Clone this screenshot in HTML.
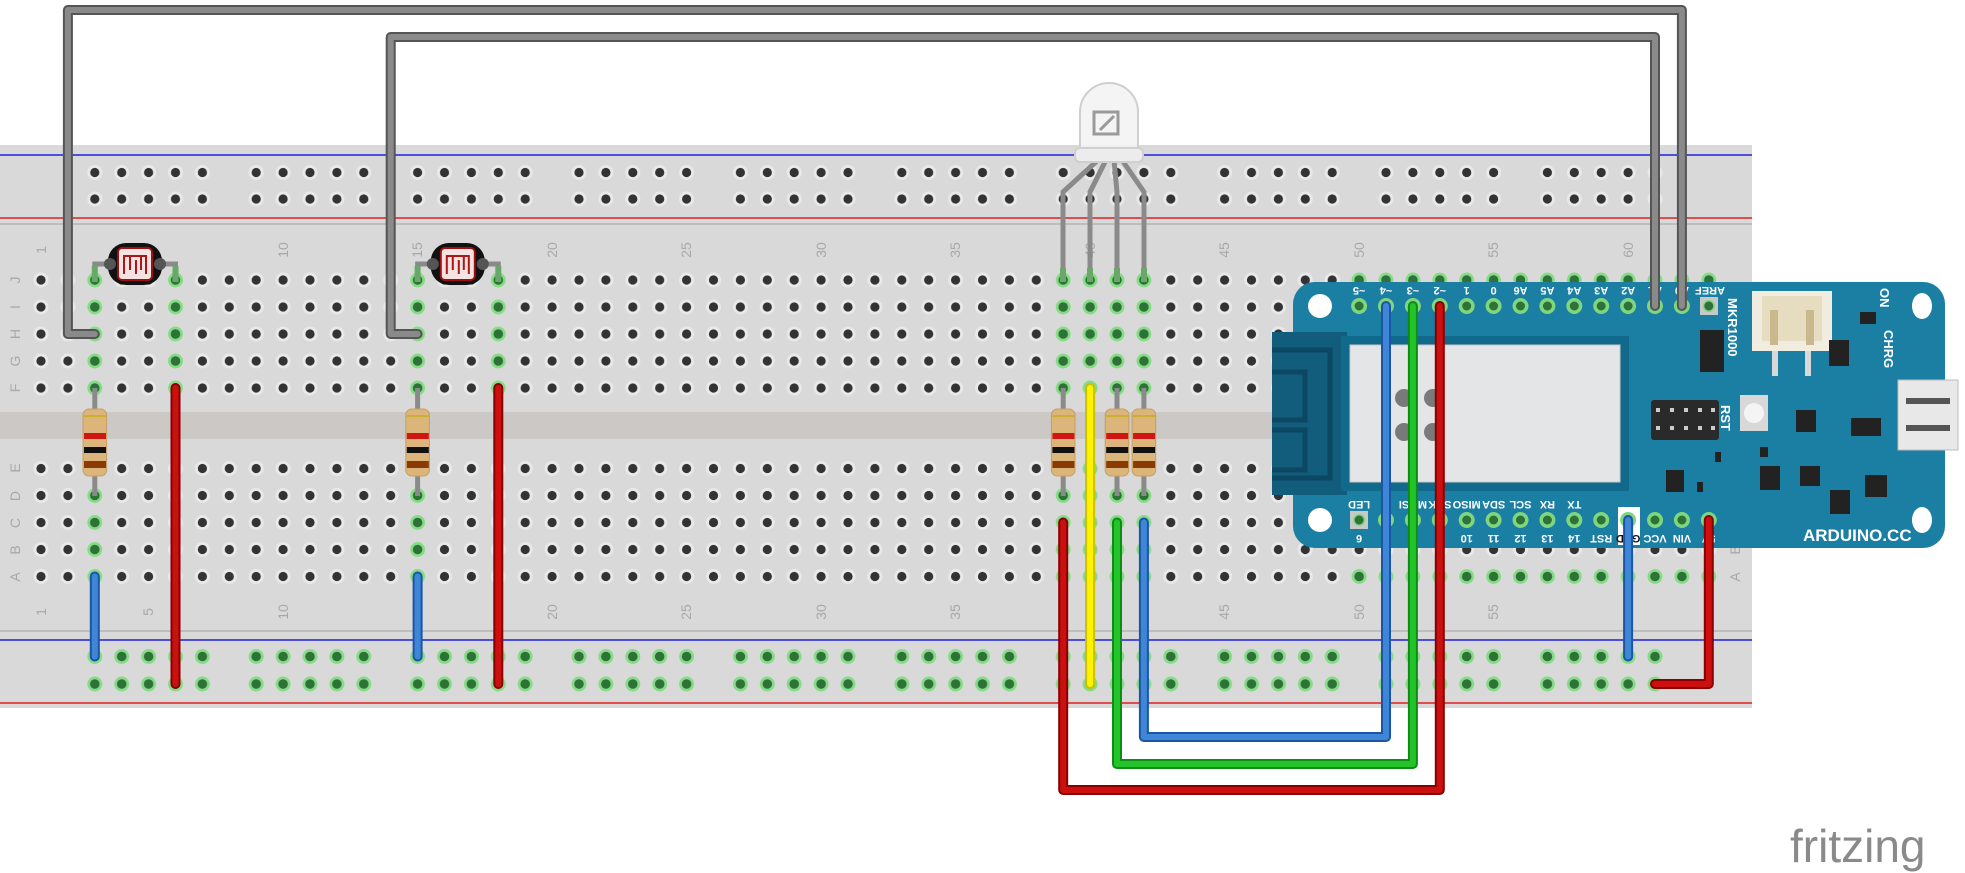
<!DOCTYPE html>
<html><head><meta charset="utf-8"><style>
html,body{margin:0;padding:0;background:#fff;width:1965px;height:873px;overflow:hidden}
svg{display:block;font-family:"Liberation Sans",sans-serif}
</style></head><body>
<svg width="1965" height="873" viewBox="0 0 1965 873" xmlns="http://www.w3.org/2000/svg">
<defs>
<pattern id="h" patternUnits="userSpaceOnUse" x="27.55" y="-13.5" width="26.9" height="27">
<circle cx="13.45" cy="13.5" r="7.5" fill="#e9e9e9"/><circle cx="13.45" cy="13.5" r="4.6" fill="#333"/></pattern>
<pattern id="hg" patternUnits="userSpaceOnUse" x="27.55" y="-13.5" width="26.9" height="27">
<circle cx="13.45" cy="13.5" r="7.5" fill="#86dc86"/><circle cx="13.45" cy="13.5" r="4.8" fill="#2f7238"/></pattern>
<pattern id="r" patternUnits="userSpaceOnUse" x="81.35" y="-13.5" width="161.4" height="27">
<g fill="#e9e9e9"><circle cx="13.45" cy="13.5" r="7.5"/><circle cx="40.35" cy="13.5" r="7.5"/><circle cx="67.25" cy="13.5" r="7.5"/><circle cx="94.15" cy="13.5" r="7.5"/><circle cx="121.05" cy="13.5" r="7.5"/></g>
<g fill="#333"><circle cx="13.45" cy="13.5" r="4.6"/><circle cx="40.35" cy="13.5" r="4.6"/><circle cx="67.25" cy="13.5" r="4.6"/><circle cx="94.15" cy="13.5" r="4.6"/><circle cx="121.05" cy="13.5" r="4.6"/></g></pattern>
<pattern id="rg" patternUnits="userSpaceOnUse" x="81.35" y="-13.5" width="161.4" height="27">
<g fill="#86dc86"><circle cx="13.45" cy="13.5" r="7.5"/><circle cx="40.35" cy="13.5" r="7.5"/><circle cx="67.25" cy="13.5" r="7.5"/><circle cx="94.15" cy="13.5" r="7.5"/><circle cx="121.05" cy="13.5" r="7.5"/></g>
<g fill="#2f7238"><circle cx="13.45" cy="13.5" r="4.8"/><circle cx="40.35" cy="13.5" r="4.8"/><circle cx="67.25" cy="13.5" r="4.8"/><circle cx="94.15" cy="13.5" r="4.8"/><circle cx="121.05" cy="13.5" r="4.8"/></g></pattern>
</defs>

<!-- breadboard -->
<rect x="0" y="145" width="1752" height="563" fill="#d9d9d9"/>
<rect x="0" y="412" width="1752" height="27" fill="#cbc8c6"/>
<line x1="0" y1="155" x2="1752" y2="155" stroke="#2020e0" stroke-width="1.5"/>
<line x1="0" y1="218" x2="1752" y2="218" stroke="#e02020" stroke-width="1.5"/>
<line x1="0" y1="224" x2="1752" y2="224" stroke="#bdbdbd" stroke-width="2"/>
<line x1="0" y1="631" x2="1752" y2="631" stroke="#bdbdbd" stroke-width="2"/>
<line x1="0" y1="640" x2="1752" y2="640" stroke="#2020e0" stroke-width="1.5"/>
<line x1="0" y1="703" x2="1752" y2="703" stroke="#e02020" stroke-width="1.5"/>

<g transform="translate(0,280)"><rect x="27.55" y="-13.5" width="1694.7" height="135" fill="url(#h)"/></g>
<g transform="translate(0,468.5)"><rect x="27.55" y="-13.5" width="1694.7" height="135" fill="url(#h)"/></g>
<g transform="translate(0,172.5)"><rect x="81.35" y="-13.5" width="1614" height="27" fill="url(#r)"/></g>
<g transform="translate(0,199)"><rect x="81.35" y="-13.5" width="1614" height="27" fill="url(#r)"/></g>
<g transform="translate(0,656.5)"><rect x="81.35" y="-13.5" width="1614" height="27" fill="url(#rg)"/></g>
<g transform="translate(0,684)"><rect x="81.35" y="-13.5" width="1614" height="27" fill="url(#rg)"/></g>
<!-- green highlights -->
<g transform="translate(0,280)">
<rect x="81.35" y="-13.5" width="26.9" height="135" fill="url(#hg)"/>
<rect x="162.05" y="-13.5" width="26.9" height="135" fill="url(#hg)"/>
<rect x="404.15" y="-13.5" width="26.9" height="135" fill="url(#hg)"/>
<rect x="484.85" y="-13.5" width="26.9" height="135" fill="url(#hg)"/>
<rect x="1049.75" y="-13.5" width="107.6" height="135" fill="url(#hg)"/>
<rect x="1345.65" y="-13.5" width="376.6" height="27" fill="url(#hg)"/>
</g>
<g transform="translate(0,468.5)">
<rect x="81.35" y="-13.5" width="26.9" height="135" fill="url(#hg)"/>
<rect x="404.15" y="-13.5" width="26.9" height="135" fill="url(#hg)"/>
<rect x="1049.75" y="-13.5" width="107.6" height="135" fill="url(#hg)"/>
<rect x="1345.65" y="94.5" width="376.6" height="27" fill="url(#hg)"/>
</g>

<!-- numbers -->
<g fill="#a8a8a8" font-size="14" text-anchor="middle">
<text transform="translate(46,250) rotate(-90)">1</text>
<text transform="translate(153,250) rotate(-90)">5</text>
<text transform="translate(288,250) rotate(-90)">10</text>
<text transform="translate(422,250) rotate(-90)">15</text>
<text transform="translate(557,250) rotate(-90)">20</text>
<text transform="translate(691,250) rotate(-90)">25</text>
<text transform="translate(826,250) rotate(-90)">30</text>
<text transform="translate(960,250) rotate(-90)">35</text>
<text transform="translate(1095,250) rotate(-90)">40</text>
<text transform="translate(1229,250) rotate(-90)">45</text>
<text transform="translate(1364,250) rotate(-90)">50</text>
<text transform="translate(1498,250) rotate(-90)">55</text>
<text transform="translate(1633,250) rotate(-90)">60</text>
<text transform="translate(46,612) rotate(-90)">1</text>
<text transform="translate(153,612) rotate(-90)">5</text>
<text transform="translate(288,612) rotate(-90)">10</text>
<text transform="translate(422,612) rotate(-90)">15</text>
<text transform="translate(557,612) rotate(-90)">20</text>
<text transform="translate(691,612) rotate(-90)">25</text>
<text transform="translate(826,612) rotate(-90)">30</text>
<text transform="translate(960,612) rotate(-90)">35</text>
<text transform="translate(1095,612) rotate(-90)">40</text>
<text transform="translate(1229,612) rotate(-90)">45</text>
<text transform="translate(1364,612) rotate(-90)">50</text>
<text transform="translate(1498,612) rotate(-90)">55</text>
<text transform="translate(1633,612) rotate(-90)">60</text>
<text transform="translate(20,280) rotate(-90)">J</text>
<text transform="translate(20,307) rotate(-90)">I</text>
<text transform="translate(20,334) rotate(-90)">H</text>
<text transform="translate(20,361) rotate(-90)">G</text>
<text transform="translate(20,388) rotate(-90)">F</text>
<text transform="translate(20,468) rotate(-90)">E</text>
<text transform="translate(20,496) rotate(-90)">D</text>
<text transform="translate(20,523) rotate(-90)">C</text>
<text transform="translate(20,550) rotate(-90)">B</text>
<text transform="translate(20,577) rotate(-90)">A</text>
<text transform="translate(1740,550) rotate(-90)">B</text>
<text transform="translate(1740,577) rotate(-90)">A</text>
</g>

<!-- LDRs -->
<g id="ldr1">
<path d="M94.8,280 V264 H120 M175.5,280 V264 H150" stroke="#8a8a8a" stroke-width="5" fill="none"/>
<path d="M94.8,282 V266 M175.5,282 V266" stroke="#6aa86a" stroke-width="6"/>
<rect x="108" y="243" width="54" height="42" rx="18" fill="#111"/>
<circle cx="110" cy="264" r="6" fill="#555"/><circle cx="160" cy="264" r="6" fill="#555"/>
<rect x="118" y="248" width="34" height="32" rx="4" fill="#f3e3e3" stroke="#a01010" stroke-width="2"/>
<path d="M124,274 V256 H146 V274 M130,256 V270 M136,274 V260 M141,256 V270" stroke="#b01515" stroke-width="2" fill="none"/>
</g>
<g transform="translate(322.8,0)">
<path d="M94.8,280 V264 H120 M175.5,280 V264 H150" stroke="#8a8a8a" stroke-width="5" fill="none"/>
<path d="M94.8,282 V266 M175.5,282 V266" stroke="#6aa86a" stroke-width="6"/>
<rect x="108" y="243" width="54" height="42" rx="18" fill="#111"/>
<circle cx="110" cy="264" r="6" fill="#555"/><circle cx="160" cy="264" r="6" fill="#555"/>
<rect x="118" y="248" width="34" height="32" rx="4" fill="#f3e3e3" stroke="#a01010" stroke-width="2"/>
<path d="M124,274 V256 H146 V274 M130,256 V270 M136,274 V260 M141,256 V270" stroke="#b01515" stroke-width="2" fill="none"/>
</g>

<!-- resistors -->
<g id="res">
<line x1="94.8" y1="388" x2="94.8" y2="496" stroke="#8a8a8a" stroke-width="5"/>
<rect x="83" y="409" width="23.6" height="67" rx="6" fill="#dcb57a" stroke="#c79e62" stroke-width="1"/>
<rect x="86" y="418" width="18" height="64" fill="none"/>
<rect x="84" y="415" width="22" height="2" fill="#c9b030"/>
<rect x="84" y="433" width="22" height="6" fill="#d01515"/>
<rect x="84" y="447" width="22" height="6" fill="#111"/>
<rect x="84" y="461" width="22" height="7" fill="#8a3a05"/>
</g>
<g transform="translate(322.8,0)"><use href="#res"/></g>
<g transform="translate(968.4,0)"><use href="#res"/></g>
<g transform="translate(1022.2,0)"><use href="#res"/></g>
<g transform="translate(1049.1,0)"><use href="#res"/></g>

<!-- RGB LED -->
<path d="M1098,160 L1063,192 V280 M1106,160 L1090,192 V280 M1114,160 L1117,192 V280 M1122,160 L1144,192 V280" stroke="#8a8a8a" stroke-width="5" fill="none"/>
<path d="M1063,268 V282 M1090,268 V282 M1117,268 V282 M1144,268 V282" stroke="#6aa86a" stroke-width="6"/>
<path d="M1080,150 V112 A29,29 0 0 1 1138,112 V150 Z" fill="#f2f2f2" fill-opacity="0.85" stroke="#cfcfcf" stroke-width="2"/>
<rect x="1075" y="148" width="68" height="14" rx="5" fill="#ececec" stroke="#cfcfcf" stroke-width="2"/>
<path d="M1094,112 h24 v22 h-24 z M1100,130 l14,-14" stroke="#9a9a9a" stroke-width="3" fill="none"/>

<!-- Arduino MKR1000 -->
<rect x="1293" y="282" width="652" height="266" rx="22" fill="#1b7ea3"/>
<circle cx="1320" cy="306" r="12" fill="#fff"/><circle cx="1320" cy="520" r="12" fill="#fff"/>
<ellipse cx="1922" cy="306" rx="10" ry="13" fill="#fff"/><ellipse cx="1922" cy="520" rx="10" ry="13" fill="#fff"/>
<rect x="1272" y="332" width="75" height="163" fill="#125c7c"/>
<path d="M1272,350 H1330 V478 H1272 M1272,372 H1305 V420 H1272 M1272,430 H1305 V470 H1272" stroke="#0c4864" stroke-width="5" fill="none"/>
<rect x="1341" y="336" width="288" height="155" fill="#11698c"/>
<rect x="1350" y="345" width="270" height="137" fill="#e4e5e7" stroke="#c8c8c8"/>
<circle cx="1404" cy="398" r="9" fill="#7a7a7a"/><circle cx="1404" cy="432" r="9" fill="#7a7a7a"/>
<circle cx="1433" cy="398" r="9" fill="#7a7a7a"/><circle cx="1433" cy="432" r="9" fill="#7a7a7a"/>
<!-- right side parts -->
<rect x="1752" y="291" width="80" height="60" fill="#f0ece0"/>
<rect x="1762" y="296" width="60" height="45" fill="#e6dcc0"/>
<rect x="1770" y="310" width="8" height="35" fill="#c9b88c"/><rect x="1806" y="310" width="8" height="35" fill="#c9b88c"/>
<rect x="1772" y="351" width="6" height="25" fill="#d8d8d8"/><rect x="1805" y="351" width="6" height="25" fill="#d8d8d8"/>
<rect x="1700" y="330" width="24" height="42" fill="#222"/>
<rect x="1651" y="400" width="68" height="40" rx="3" fill="#2a2a2a"/>
<g fill="#ccc"><rect x="1656" y="408" width="4" height="4"/><rect x="1670" y="408" width="4" height="4"/><rect x="1684" y="408" width="4" height="4"/><rect x="1698" y="408" width="4" height="4"/><rect x="1711" y="408" width="4" height="4"/><rect x="1656" y="426" width="4" height="4"/><rect x="1670" y="426" width="4" height="4"/><rect x="1684" y="426" width="4" height="4"/><rect x="1698" y="426" width="4" height="4"/><rect x="1711" y="426" width="4" height="4"/></g>
<rect x="1740" y="395" width="28" height="36" fill="#d8d8d8"/><circle cx="1754" cy="413" r="10" fill="#f4f4f4"/>
<rect x="1898" y="380" width="60" height="70" fill="#e8e8e8" stroke="#bbb"/>
<rect x="1906" y="398" width="44" height="6" fill="#555"/><rect x="1906" y="425" width="44" height="6" fill="#555"/>
<g fill="#222">
<rect x="1796" y="410" width="20" height="22"/><rect x="1851" y="418" width="30" height="18"/>
<rect x="1829" y="340" width="20" height="26"/><rect x="1860" y="312" width="16" height="12"/>
<rect x="1800" y="466" width="20" height="20"/><rect x="1760" y="466" width="20" height="24"/>
<rect x="1830" y="490" width="20" height="24"/><rect x="1865" y="475" width="22" height="22"/>
<rect x="1666" y="470" width="18" height="22"/><rect x="1760" y="447" width="8" height="10"/>
<rect x="1715" y="452" width="6" height="10"/><rect x="1697" y="482" width="6" height="10"/>
</g>
<!-- top pads -->
<g fill="#7ed67e">
<circle cx="1359.1" cy="306" r="8"/><circle cx="1386" cy="306" r="8"/><circle cx="1412.9" cy="306" r="8"/><circle cx="1439.8" cy="306" r="8"/><circle cx="1466.7" cy="306" r="8"/><circle cx="1493.6" cy="306" r="8"/><circle cx="1520.5" cy="306" r="8"/><circle cx="1547.4" cy="306" r="8"/><circle cx="1574.3" cy="306" r="8"/><circle cx="1601.2" cy="306" r="8"/><circle cx="1628.1" cy="306" r="8"/><circle cx="1655" cy="306" r="8"/><circle cx="1681.9" cy="306" r="8"/>
<circle cx="1386" cy="520" r="8"/><circle cx="1412.9" cy="520" r="8"/><circle cx="1439.8" cy="520" r="8"/><circle cx="1466.7" cy="520" r="8"/><circle cx="1493.6" cy="520" r="8"/><circle cx="1520.5" cy="520" r="8"/><circle cx="1547.4" cy="520" r="8"/><circle cx="1574.3" cy="520" r="8"/><circle cx="1601.2" cy="520" r="8"/><circle cx="1628.1" cy="520" r="8"/><circle cx="1655" cy="520" r="8"/><circle cx="1681.9" cy="520" r="8"/><circle cx="1708.8" cy="520" r="8"/>
</g>
<rect x="1700" y="297" width="18" height="18" fill="#c8c8c8"/><circle cx="1708.8" cy="306" r="6" fill="#7ed67e"/>
<rect x="1350" y="511" width="18" height="18" fill="#c8c8c8"/><circle cx="1359.1" cy="520" r="6" fill="#7ed67e"/>
<rect x="1618" y="507" width="22" height="38" fill="#fff"/><circle cx="1628.1" cy="520" r="8" fill="#7ed67e"/>
<g fill="#2f7238">
<circle cx="1359.1" cy="306" r="4.5"/><circle cx="1386" cy="306" r="4.5"/><circle cx="1412.9" cy="306" r="4.5"/><circle cx="1439.8" cy="306" r="4.5"/><circle cx="1466.7" cy="306" r="4.5"/><circle cx="1493.6" cy="306" r="4.5"/><circle cx="1520.5" cy="306" r="4.5"/><circle cx="1547.4" cy="306" r="4.5"/><circle cx="1574.3" cy="306" r="4.5"/><circle cx="1601.2" cy="306" r="4.5"/><circle cx="1628.1" cy="306" r="4.5"/><circle cx="1655" cy="306" r="4.5"/><circle cx="1681.9" cy="306" r="4.5"/><circle cx="1708.8" cy="306" r="4.5"/>
<circle cx="1359.1" cy="520" r="4.5"/><circle cx="1386" cy="520" r="4.5"/><circle cx="1412.9" cy="520" r="4.5"/><circle cx="1439.8" cy="520" r="4.5"/><circle cx="1466.7" cy="520" r="4.5"/><circle cx="1493.6" cy="520" r="4.5"/><circle cx="1520.5" cy="520" r="4.5"/><circle cx="1547.4" cy="520" r="4.5"/><circle cx="1574.3" cy="520" r="4.5"/><circle cx="1601.2" cy="520" r="4.5"/><circle cx="1628.1" cy="520" r="4.5"/><circle cx="1655" cy="520" r="4.5"/><circle cx="1681.9" cy="520" r="4.5"/><circle cx="1708.8" cy="520" r="4.5"/>
</g>
<!-- pin labels (upside down) -->
<g fill="#fff" font-size="11" font-weight="bold" text-anchor="middle" dominant-baseline="central">
<text transform="rotate(180 1359.1 290)" x="1359.1" y="290">~5</text>
<text transform="rotate(180 1386 290)" x="1386" y="290">~4</text>
<text transform="rotate(180 1412.9 290)" x="1412.9" y="290">~3</text>
<text transform="rotate(180 1439.8 290)" x="1439.8" y="290">~2</text>
<text transform="rotate(180 1466.7 290)" x="1466.7" y="290">1</text>
<text transform="rotate(180 1493.6 290)" x="1493.6" y="290">0</text>
<text transform="rotate(180 1520.5 290)" x="1520.5" y="290">A6</text>
<text transform="rotate(180 1547.4 290)" x="1547.4" y="290">A5</text>
<text transform="rotate(180 1574.3 290)" x="1574.3" y="290">A4</text>
<text transform="rotate(180 1601.2 290)" x="1601.2" y="290">A3</text>
<text transform="rotate(180 1628.1 290)" x="1628.1" y="290">A2</text>
<text transform="rotate(180 1655 290)" x="1655" y="290">A1</text>
<text transform="rotate(180 1681.9 290)" x="1681.9" y="290">A0</text>
<text transform="rotate(180 1710 290)" x="1710" y="290">AREF</text>
<text transform="rotate(180 1359.1 504)" x="1359.1" y="504">LED</text>
<text transform="rotate(180 1412.9 504)" x="1412.9" y="504">MOSI</text>
<text transform="rotate(180 1439.8 504)" x="1439.8" y="504">SCK</text>
<text transform="rotate(180 1466.7 504)" x="1466.7" y="504">MISO</text>
<text transform="rotate(180 1493.6 504)" x="1493.6" y="504">SDA</text>
<text transform="rotate(180 1520.5 504)" x="1520.5" y="504">SCL</text>
<text transform="rotate(180 1547.4 504)" x="1547.4" y="504">RX</text>
<text transform="rotate(180 1574.3 504)" x="1574.3" y="504">TX</text>
<text transform="rotate(180 1359.1 538)" x="1359.1" y="538">6</text>
<text transform="rotate(180 1466.7 538)" x="1466.7" y="538">10</text>
<text transform="rotate(180 1493.6 538)" x="1493.6" y="538">11</text>
<text transform="rotate(180 1520.5 538)" x="1520.5" y="538">12</text>
<text transform="rotate(180 1547.4 538)" x="1547.4" y="538">13</text>
<text transform="rotate(180 1574.3 538)" x="1574.3" y="538">14</text>
<text transform="rotate(180 1601.2 538)" x="1601.2" y="538">RST</text>
<text transform="rotate(180 1628.1 538)" x="1628.1" y="538" fill="#111">GND</text>
<text transform="rotate(180 1655 538)" x="1655" y="538">VCC</text>
<text transform="rotate(180 1681.9 538)" x="1681.9" y="538">VIN</text>
<text transform="rotate(180 1708.8 538)" x="1708.8" y="538">5V</text>
</g>
<g fill="#fff" font-size="13" font-weight="bold">
<text transform="translate(1728,298) rotate(90)">MKR1000</text>
<text transform="translate(1721,405) rotate(90)">RST</text>
<text transform="translate(1880,288) rotate(90)">ON</text>
<text transform="translate(1884,330) rotate(90)">CHRG</text>
<text x="1803" y="541" font-size="17">ARDUINO.CC</text>
</g>

<!-- wires -->
<g fill="none" stroke-linecap="round" stroke-linejoin="round">
<g stroke="#555" stroke-width="10">
<path d="M94.8,334 H67.9 V10 H1681.9 V306"/><path d="M417.6,334 H390.7 V37 H1655 V306"/></g>
<g stroke="#8a8a8a" stroke-width="6">
<path d="M94.8,334 H67.9 V10 H1681.9 V306"/><path d="M417.6,334 H390.7 V37 H1655 V306"/></g>
<g stroke="#8a0000" stroke-width="10">
<path d="M175.5,388 V684"/><path d="M498.3,388 V684"/><path d="M1063.2,522.5 V790 H1439.8 V306"/><path d="M1708.8,520 V684 H1655"/></g>
<g stroke="#cc1010" stroke-width="6">
<path d="M175.5,388 V684"/><path d="M498.3,388 V684"/><path d="M1063.2,522.5 V790 H1439.8 V306"/><path d="M1708.8,520 V684 H1655"/></g>
<g stroke="#1b55a5" stroke-width="10">
<path d="M94.8,576.5 V656.5"/><path d="M417.6,576.5 V656.5"/><path d="M1143.9,522.5 V737 H1386 V306"/><path d="M1628.1,520 V656.5"/></g>
<g stroke="#3f86d6" stroke-width="6">
<path d="M94.8,576.5 V656.5"/><path d="M417.6,576.5 V656.5"/><path d="M1143.9,522.5 V737 H1386 V306"/><path d="M1628.1,520 V656.5"/></g>
<path d="M1117,522.5 V764 H1412.9 V306" stroke="#118a18" stroke-width="10"/>
<path d="M1117,522.5 V764 H1412.9 V306" stroke="#22c42a" stroke-width="6"/>
<path d="M1090.1,388 V684" stroke="#c9c000" stroke-width="10"/>
<path d="M1090.1,388 V684" stroke="#fff200" stroke-width="6"/>
</g>

<text x="1790" y="862" font-size="46" fill="#8a8a8a" font-family="Liberation Sans, sans-serif">fritzing</text>
</svg>
</body></html>
